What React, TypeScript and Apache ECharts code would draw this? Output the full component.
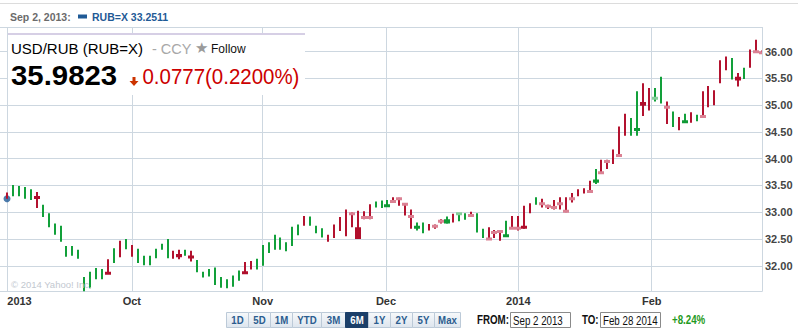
import React, { useEffect, useRef } from 'react';
import * as echarts from 'echarts';

// ---- data (USD/RUB daily, Sep 2 2013 – Feb 28 2014, one entry per trading day) ----
const lows = [
  33.25, 33.30, 33.30, 33.25, 33.23, 33.08, 32.91, 32.72, 32.58, 32.45,
  32.17, 32.19, 32.13, 31.52, 31.58, 31.75, 31.75, 31.86, 32.05, 32.16,
  32.31, 32.17, 32.05, 32.01, 32.01, 32.14, 32.30, 32.14, 32.13, 32.12,
  32.19, 32.08, 31.88, 31.78, 31.80, 31.64, 31.59, 31.58, 31.61, 31.72,
  31.85, 31.93, 31.93, 32.00, 32.24, 32.30, 32.30, 32.27, 32.37, 32.57,
  32.75, 32.75, 32.61, 32.53, 32.45, 32.52, 32.65, 32.55, 32.72, 32.50,
  32.87, 32.87, 33.09, 33.08, 33.10, 33.18, 33.12, 32.94, 32.69, 32.66,
  32.61, 32.66, 32.69, 32.79, 32.79, 32.81, 32.83, 32.86, 32.92, 32.62,
  32.52, 32.49, 32.52, 32.47, 32.55, 32.69, 32.66, 32.69, 32.98, 33.14,
  33.09, 33.06, 33.05, 33.05, 33.00, 33.18, 33.30, 33.35, 33.37, 33.53,
  33.73, 33.81, 33.90, 34.06, 34.43, 34.43, 34.43, 34.80, 34.90, 35.07,
  35.03, 34.65, 34.59, 34.53, 34.67, 34.67, 34.70, 34.78, 34.96, 35.00,
  35.41, 35.65, 35.48, 35.35, 35.49, 35.70, 35.99, 35.96,
];
const highs = [
  33.37, 33.51, 33.49, 33.47, 33.43, 33.38, 33.14, 32.98, 32.79, 32.75,
  32.37, 32.37, 32.30, 31.79, 31.89, 31.96, 31.94, 32.12, 32.33, 32.47,
  32.50, 32.39, 32.32, 32.19, 32.19, 32.32, 32.41, 32.50, 32.28, 32.30,
  32.30, 32.28, 32.11, 31.89, 31.94, 31.97, 31.79, 31.75, 31.82, 31.91,
  32.07, 32.09, 32.13, 32.39, 32.44, 32.58, 32.53, 32.44, 32.73, 32.77,
  32.93, 32.92, 32.75, 32.70, 32.58, 32.77, 32.91, 33.05, 33.00, 33.03,
  33.02, 33.15, 33.20, 33.22, 33.23, 33.28, 33.27, 33.17, 33.05, 32.81,
  32.81, 32.78, 32.77, 32.87, 32.92, 32.97, 32.98, 32.98, 33.01, 32.98,
  32.69, 32.72, 32.67, 32.67, 32.84, 32.93, 32.93, 33.12, 33.17, 33.28,
  33.25, 33.14, 33.23, 33.28, 33.28, 33.36, 33.43, 33.45, 33.59, 33.81,
  33.98, 33.98, 34.17, 34.60, 34.84, 34.76, 35.26, 35.41, 35.32, 35.32,
  35.53, 35.07, 34.88, 34.78, 34.84, 34.87, 34.82, 35.26, 35.36, 35.28,
  35.84, 35.91, 35.88, 35.60, 35.70, 36.04, 36.22, 36.02,
];
// g = up (green), r = down (red)
const trend = (
  'rggggrgggg' + 'gggggggrgr' + 'grggggggrr' + 'grgggggggg' + 'rrgggggggg' +
  'rgggrrrrrr' + 'rrgggrrrrg' + 'grrrgrggrg' + 'grrrgrrrrg' + 'rrrrrrrrrg' +
  'rrrrrggrrg' + 'grgrgrgrrr' + 'rrgrgrrr'
).split('');
// candle bodies: [day index, low of body, high of body, kind: s = filled, l = light]
const bodies: [number, number, number, string][] = [
  [5, 33.25, 33.30, 's'], [17, 31.84, 31.88, 's'], [29, 32.16, 32.22, 's'], [31, 32.15, 32.18, 's'],
  [40, 31.85, 31.89, 's'], [58, 32.97, 32.97, 'l'], [59, 32.50, 32.72, 's'], [60, 32.90, 32.90, 'l'],
  [61, 32.90, 32.90, 'l'], [64, 33.12, 33.12, 's'], [65, 33.20, 33.20, 'l'], [66, 33.25, 33.25, 'l'],
  [67, 33.15, 33.15, 'l'], [68, 32.92, 32.92, 'l'], [69, 32.72, 32.72, 's'], [72, 32.74, 32.74, 'l'],
  [73, 32.83, 32.83, 'l'], [74, 32.79, 32.87, 's'], [76, 32.97, 32.97, 'l'], [78, 32.94, 32.94, 'l'],
  [81, 32.50, 32.50, 'l'], [82, 32.62, 32.62, 'l'], [83, 32.64, 32.64, 'l'], [84, 32.56, 32.56, 's'],
  [85, 32.70, 32.70, 'l'], [86, 32.70, 32.70, 'l'], [87, 32.72, 32.72, 's'], [90, 33.16, 33.16, 'l'],
  [91, 33.11, 33.11, 'l'], [92, 33.09, 33.09, 'l'], [93, 33.16, 33.16, 'l'], [94, 33.02, 33.02, 'l'],
  [95, 33.25, 33.25, 'l'], [98, 33.39, 33.39, 'l'], [99, 33.55, 33.61, 's'], [100, 33.74, 33.74, 'l'],
  [101, 33.95, 33.95, 'l'], [103, 34.06, 34.06, 'l'], [106, 34.52, 34.57, 's'], [107, 34.99, 35.06, 's'],
  [109, 35.13, 35.13, 'l'], [111, 34.96, 34.96, 'l'], [114, 34.69, 34.69, 's'], [117, 34.79, 34.79, 'l'],
  [123, 35.46, 35.53, 's'], [126, 36.00, 36.00, 'l'], [127, 35.98, 35.98, 'l'],
];
const firstValue = 33.2511; // Sep 2, 2013
const monthTicks = [0, 21, 43, 63.75, 86, 108.45];
const monthLabels = ['2013', 'Oct', 'Nov', 'Dec', '2014', 'Feb'];
const rangeButtons = ['1D', '5D', '1M', 'YTD', '3M', '6M', '1Y', '2Y', '5Y', 'Max'];

const FONT = 'Arial, "Liberation Sans", Helvetica, sans-serif';
const GRID = '#cdd7e0';
const COLORS = {
  up: '#12a03a',
  down: '#b3122f',
  upSolid: '#0f9a36',
  downSolid: '#b00f2c',
  upLight: '#86cf9b',
  downLight: '#db8193',
};

function buildGraphic() {
  const g: any[] = [];
  const txt = (x: number, y: number, text: string, o: any = {}, sx = 1) => ({
    type: 'text', x, y, z: 20, silent: true, scaleX: sx,
    style: { text, fontFamily: FONT, fontSize: 11, fill: '#000', verticalAlign: 'middle', align: 'left', ...o },
  });
  g.push({ type: 'line', z: 20, silent: true, shape: { x1: 0, y1: 3.5, x2: 798, y2: 3.5 }, style: { stroke: '#dcdcdc', lineWidth: 1 } });
  g.push(txt(10, 17, 'Sep 2, 2013:', { fontWeight: 'bold', fontSize: 10.5, fill: '#6b6b6b' }));
  g.push({ type: 'rect', z: 20, silent: true, shape: { x: 78, y: 14.5, width: 9, height: 4 }, style: { fill: '#1f5a96' } });
  g.push(txt(92, 17, 'RUB=X ' + firstValue.toFixed(4), { fontWeight: 'bold', fontSize: 10.5, fill: '#1f5a96' }));
  // quote box
  g.push({ type: 'rect', z: 19, silent: true, shape: { x: 8, y: 33, width: 297, height: 62 }, style: { fill: '#ffffff' } });
  g.push({ type: 'line', z: 20, silent: true, shape: { x1: 8, y1: 34, x2: 305, y2: 34 }, style: { stroke: '#d6cfe5', lineWidth: 2 } });
  g.push(txt(11, 48.5, 'USD/RUB (RUB=X)', { fontSize: 15 }));
  g.push(txt(152, 48.5, '- CCY', { fontSize: 14.5, fill: '#a8a8a8' }));
  g.push(txt(195, 48, '★', { fontSize: 15, fill: '#9a9a9a', fontFamily: '"DejaVu Sans", sans-serif' }));
  g.push(txt(211, 48.5, 'Follow', { fontSize: 12, fill: '#111' }));
  g.push(txt(11, 75, '35.9823', { fontSize: 28, fontWeight: 'bold', fill: '#000' }, 1.05));
  g.push({ type: 'polygon', z: 20, silent: true,
    shape: { points: [[132.5, 77], [135.5, 77], [135.5, 81], [138.5, 81], [134, 86], [129.5, 81], [132.5, 81]] },
    style: { fill: '#cc3300' } });
  g.push(txt(142.5, 77, '0.0777(0.2200%)', { fontSize: 22, fill: '#cc0000' }, 0.93));
  g.push(txt(11, 284, '© 2014 Yahoo! Inc.', { fontSize: 9.5, fill: '#c2c8d0' }));

  // range buttons
  const edges = [226.5, 248.5, 270.5, 292.5, 321.5, 345.5, 368.5, 390.5, 412.5, 434.5, 460.5];
  rangeButtons.forEach((lab, k) => {
    const sel = lab === '6M';
    const x0 = edges[k];
    const w = edges[k + 1] - edges[k];
    g.push({ type: 'rect', z: 20, silent: true, shape: { x: x0, y: 312.5, width: w, height: 15 },
      style: {
        fill: sel ? '#1b3f69' : new echarts.graphic.LinearGradient(0, 0, 0, 1, [
          { offset: 0, color: '#f7f9fb' }, { offset: 1, color: '#dde5ee' }]),
        stroke: sel ? '#1b3f69' : '#bccad8', lineWidth: 1,
      } });
    g.push(txt(x0 + w / 2, 320.5, lab, { align: 'center', fontWeight: 'bold', fontSize: 10.5, fill: sel ? '#ffffff' : '#2b5d8f' }, 0.92));
  });
  const S = 0.78;
  g.push(txt(477, 320, 'FROM:', { fontWeight: 'bold', fontSize: 12.5, fill: '#111' }, S));
  g.push({ type: 'rect', z: 20, silent: true, shape: { x: 510.5, y: 312.5, width: 60, height: 15 }, style: { fill: '#fff', stroke: '#8a8a8a', lineWidth: 1 } });
  g.push(txt(513, 320.5, 'Sep 2 2013', { fontSize: 12.5, fill: '#111' }, S));
  g.push(txt(582, 320, 'TO:', { fontWeight: 'bold', fontSize: 12.5, fill: '#111' }, S));
  g.push({ type: 'rect', z: 20, silent: true, shape: { x: 600.5, y: 312.5, width: 60, height: 15 }, style: { fill: '#fff', stroke: '#8a8a8a', lineWidth: 1 } });
  g.push(txt(603, 320.5, 'Feb 28 2014', { fontSize: 12.5, fill: '#111' }, S));
  g.push(txt(672, 320, '+8.24%', { fontWeight: 'bold', fontSize: 12.5, fill: '#1f9a22' }, S));
  return g;
}

export default function App() {
  const ref = useRef<HTMLDivElement>(null);
  useEffect(() => {
    if (!ref.current) return;
    const chart = echarts.init(ref.current, undefined, { renderer: 'svg' });
    const lastIndex = lows.length - 1;
    chart.setOption({
      animation: false,
      backgroundColor: '#ffffff',
      grid: { left: 0, right: 36, top: 27, bottom: 38.5, outerBoundsMode: 'none', containLabel: false },
      xAxis: {
        type: 'value',
        min: -1.18,
        max: lastIndex,
        axisLine: { show: true, onZero: false, lineStyle: { color: GRID, width: 1 } },
        axisTick: { show: false, customValues: [...monthTicks, lastIndex] },
        splitLine: { show: true, lineStyle: { color: GRID, width: 1 } },
        axisLabel: {
          customValues: monthTicks,
          margin: 4,
          fontFamily: FONT,
          fontSize: 11,
          fontWeight: 'bold',
          color: '#333',
          formatter: (v: number) => {
            const k = monthTicks.findIndex((t) => Math.abs(t - v) < 1e-6);
            if (k < 0) return '';
            return k === 0 ? `{first|${monthLabels[k]}}` : monthLabels[k];
          },
          rich: {
            first: { padding: [0, 0, 0, 25], fontFamily: FONT, fontSize: 11, fontWeight: 'bold', color: '#333' },
          },
        },
      },
      yAxis: {
        type: 'value',
        position: 'right',
        min: 31.52,
        max: 36.46,
        splitNumber: 10,
        minInterval: 0.5,
        maxInterval: 0.5,
        scale: true,
        axisLine: { show: false },
        axisTick: { show: false },
        splitLine: { show: true, lineStyle: { color: GRID, width: 1 } },
        axisLabel: {
          showMinLabel: false,
          showMaxLabel: false,
          margin: 3,
          fontFamily: FONT,
          fontSize: 11,
          fontWeight: 'bold',
          color: '#444',
          formatter: (v: number) => v.toFixed(2),
        },
      },
      graphic: buildGraphic(),
      series: [
        {
          type: 'scatter',
          z: 1,
          silent: true,
          symbolSize: 7,
          itemStyle: { color: '#1f5a96' },
          data: [[0, firstValue]],
        },
        {
          type: 'custom',
          z: 2,
          clip: true,
          silent: true,
          encode: { x: 0, y: [1, 2] },
          data: lows.map((l, i) => [i, l, highs[i]]),
          renderItem: (params: any, api: any) => {
            const i = api.value(0);
            const pLo = api.coord([i, api.value(1)]);
            const pHi = api.coord([i, api.value(2)]);
            const x = Math.round(pLo[0]);
            const up = trend[params.dataIndex] === 'g';
            return {
              type: 'rect',
              shape: { x: x - 1, y: pHi[1], width: 2, height: Math.max(1, pLo[1] - pHi[1]) },
              style: { fill: up ? COLORS.up : COLORS.down },
            };
          },
        },
        {
          type: 'custom',
          z: 3,
          clip: true,
          silent: true,
          encode: { x: 0, y: [1, 2] },
          data: bodies.map((b) => [b[0], b[1], b[2]]),
          renderItem: (params: any, api: any) => {
            const b = bodies[params.dataIndex];
            const i = api.value(0);
            const p1 = api.coord([i, api.value(1)]);
            const p2 = api.coord([i, api.value(2)]);
            const x = Math.round(p1[0]);
            let top = Math.min(p1[1], p2[1]);
            let h = Math.abs(p1[1] - p2[1]);
            if (h < 3) {
              const c = (p1[1] + p2[1]) / 2;
              top = c - 1.5;
              h = 3;
            }
            const up = trend[b[0]] === 'g';
            const light = b[3] === 'l';
            const fill = up ? (light ? COLORS.upLight : COLORS.upSolid) : (light ? COLORS.downLight : COLORS.downSolid);
            return { type: 'rect', shape: { x: x - 3, y: top, width: 6, height: h }, style: { fill } };
          },
        },
      ],
    });
    return () => chart.dispose();
  }, []);
  return <div ref={ref} style={{ position: 'absolute', left: 0, top: 0, width: 798, height: 330 }} />;
}
